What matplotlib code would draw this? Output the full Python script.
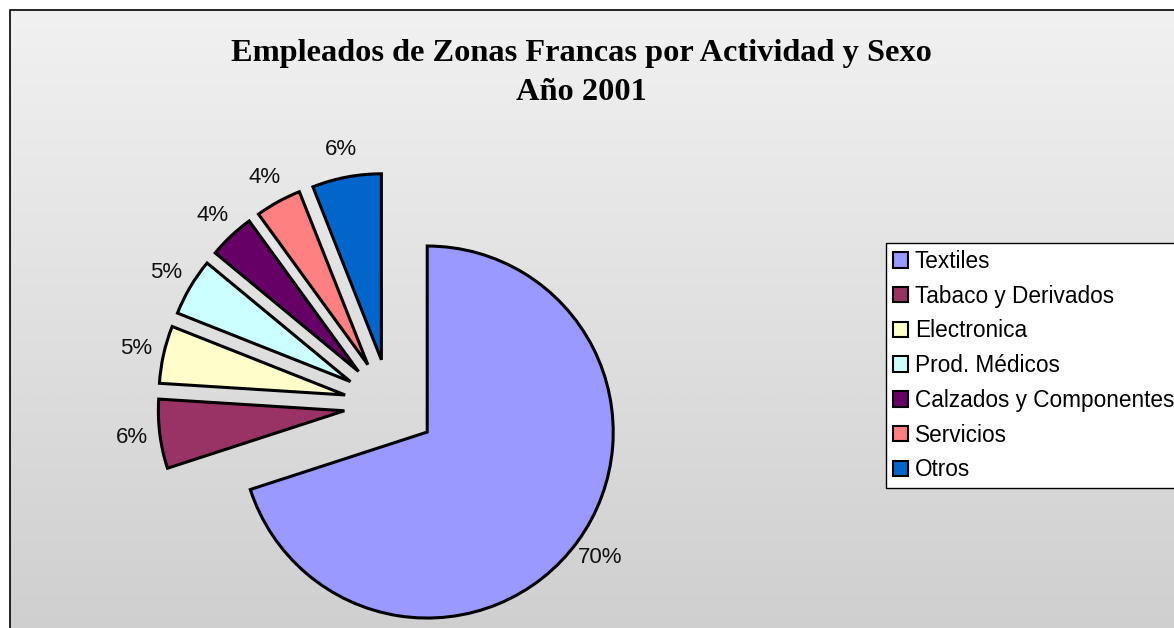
import numpy as np
import matplotlib.pyplot as plt
from matplotlib.patches import Patch, Rectangle

# data
labels = ['Textiles', 'Tabaco y Derivados', 'Electronica', 'Prod. Médicos',
          'Calzados y Componentes', 'Servicios', 'Otros']
shares = [70, 6, 5, 5, 4, 4, 6]
colors = ['#9999FF', '#993366', '#FFFFCC', '#CCFFFF', '#660066', '#FF8080', '#0066CC']
title_lines = ['Empleados de Zonas Francas por Actividad y Sexo', 'Año 2001']

W, H = 1174, 628
fig = plt.figure(figsize=(W / 100, H / 100), dpi=100)
fig.patch.set_facecolor('white')
ax = fig.add_axes([0, 0, 1, 1])

# chart area: grey gradient, lighter on top
grad = np.linspace(241, 207, 256).reshape(-1, 1) / 255.0
ax.imshow(np.dstack([grad, grad, grad]), extent=(10, W + 5, -5, H - 10),
          aspect='auto', origin='upper', zorder=0)
ax.add_patch(Rectangle((10, -5), W, H - 5, fill=False, ec='black', lw=1.2, zorder=1))

# explode is in data units here (pixels), radius too
wedges, texts, autotexts = ax.pie(
    shares, colors=colors, startangle=90, counterclock=False,
    explode=[46] * len(shares), radius=186, center=(390, H - 405),
    autopct='%1.0f%%', pctdistance=1.15,
    wedgeprops=dict(edgecolor='black', linewidth=2.2),
    textprops=dict(fontsize=16, family='Liberation Sans', color='#111111'),
    frame=True)
for w in wedges:
    w.set_zorder(2)
ax.set_xlim(0, W)
ax.set_ylim(0, H)
ax.set_aspect('equal')
ax.axis('off')

ax.text(581, H - 61, title_lines[0], ha='center', va='baseline',
        fontsize=23.3, fontweight='bold', family='Liberation Serif')
ax.text(581, H - 100, title_lines[1], ha='center', va='baseline',
        fontsize=23.3, fontweight='bold', family='Liberation Serif')

handles = [Patch(facecolor=c, edgecolor='black', linewidth=1.5) for c in colors]
leg = ax.legend(handles, labels, loc='upper left', bbox_to_anchor=(886 / W, 1 - 243 / H),
                bbox_transform=fig.transFigure, frameon=True, fancybox=False,
                framealpha=1, prop=dict(family='Liberation Sans', size=16.3),
                handlelength=0.68, handleheight=0.68, handletextpad=0.3,
                labelspacing=0.52, borderpad=0.3, borderaxespad=0)
leg.get_frame().set_edgecolor('black')
leg.get_frame().set_linewidth(1.0)
leg.get_frame().set_facecolor('white')

fig.savefig('out.png', dpi=100)
